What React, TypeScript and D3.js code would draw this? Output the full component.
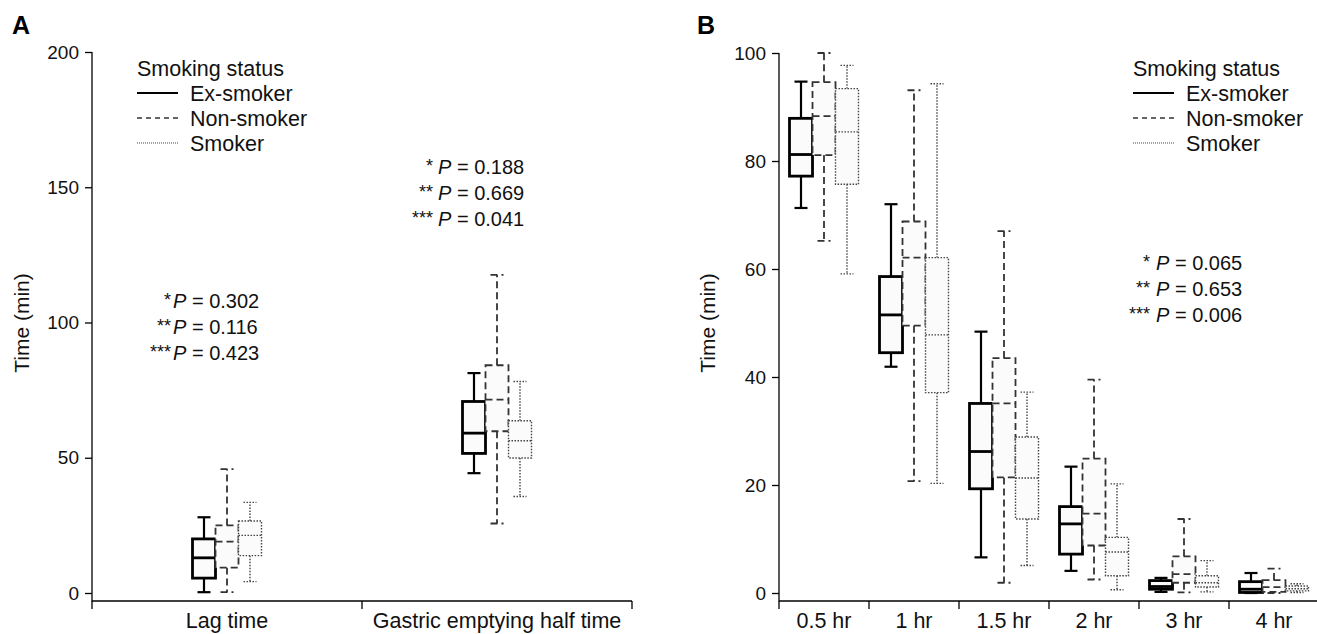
import * as d3 from "d3";
import React, { useEffect, useRef } from "react";

// each box: [min, q1, median, q3, max]
const groups = ["Ex-smoker", "Non-smoker", "Smoker"];

const categoriesA = ["Lag time", "Gastric emptying half time"];
const exSmokerA = [
  [0.3, 5.5, 13, 20, 28],
  [44.3, 51.6, 59.1, 70.8, 81.3],
];
const nonSmokerA = [
  [0.3, 9.4, 19, 25, 45.8],
  [25.7, 59.8, 71.5, 84.2, 117.6],
];
const smokerA = [
  [4.2, 13.8, 21.3, 26.6, 33.5],
  [35.7, 49.9, 56.3, 63.7, 78.2],
];
const ticksA = [0, 50, 100, 150, 200];

const categoriesB = ["0.5 hr", "1 hr", "1.5 hr", "2 hr", "3 hr", "4 hr"];
const exSmokerB = [
  [71.3, 77.2, 81.2, 87.9, 94.7],
  [41.9, 44.5, 51.5, 58.6, 72.0],
  [6.6, 19.3, 26.2, 35.1, 48.4],
  [4.1, 7.2, 12.8, 16.0, 23.4],
  [0.2, 0.7, 1.2, 2.3, 2.8],
  [0, 0.1, 0.7, 2.1, 3.7],
];
const nonSmokerB = [
  [65.2, 81.1, 88.3, 94.6, 100],
  [20.7, 49.5, 62.1, 68.8, 93.1],
  [1.9, 21.4, 35.1, 43.5, 67],
  [2.5, 8.8, 14.7, 24.9, 39.5],
  [0.1, 1.9, 3.5, 6.8, 13.7],
  [0, 0.2, 1.1, 2.4, 4.5],
];
const smokerB = [
  [59.1, 75.7, 85.4, 93.4, 97.7],
  [20.3, 37.1, 47.8, 62.1, 94.3],
  [5.1, 13.7, 21.3, 28.9, 37.2],
  [0.6, 3.2, 7.6, 10.3, 20.2],
  [0.2, 1.1, 1.9, 3.2, 6.0],
  [0.1, 0.4, 0.8, 1.3, 1.7],
];
const ticksB = [0, 20, 40, 60, 80, 100];

const starLabels = ["*", "**", "***"];
const pLagTime = ["0.302", "0.116", "0.423"];
const pHalfTime = ["0.188", "0.669", "0.041"];
const pHours = ["0.065", "0.653", "0.006"];

const FONT = "'Liberation Sans', Arial, sans-serif";

const groupStyles = [
  { stroke: "#000", width: 2.8, dash: null, legendDash: null, legendWidth: 2.2 },
  { stroke: "#333", width: 1.8, dash: "7,4", legendDash: "5,4", legendWidth: 1.3 },
  { stroke: "#444", width: 1.4, dash: "1.5,1.5", legendDash: "1,1", legendWidth: 1 },
];

function drawPanel(svg, opt) {
  const g = svg.append("g");
  const x = d3.scaleBand().domain(opt.categories).range(opt.xRange);
  const y = d3.scaleLinear().domain(opt.yDomain).range(opt.yRange);
  const axisY = 601;
  const boxW = 23;
  const capW = 13;

  // panel letter
  g.append("text")
    .attr("x", opt.letterX).attr("y", 34)
    .attr("font-family", FONT).attr("font-weight", "bold").attr("font-size", 25)
    .text(opt.letter);

  // y axis
  const yAxis = g.append("g")
    .attr("transform", `translate(${opt.xRange[0]},0)`)
    .call(d3.axisLeft(y).tickValues(opt.ticks).tickSize(7).tickSizeOuter(0).tickPadding(6));
  yAxis.select(".domain").remove();
  yAxis.selectAll("line").attr("stroke-width", 1.3);
  yAxis.selectAll("text").attr("font-family", FONT).attr("font-size", 19).attr("fill", "#111");
  g.append("line")
    .attr("x1", opt.xRange[0]).attr("x2", opt.xRange[0])
    .attr("y1", y(opt.yDomain[1])).attr("y2", axisY + 0.5)
    .attr("stroke", "#000").attr("stroke-width", 1.3);

  // x axis
  g.append("line")
    .attr("x1", opt.xRange[0]).attr("x2", opt.xRange[1])
    .attr("y1", axisY).attr("y2", axisY)
    .attr("stroke", "#000").attr("stroke-width", 1.5);
  const bounds = opt.categories.map((c) => x(c)).concat([opt.xRange[1]]);
  g.selectAll(".xtick").data(bounds).enter().append("line")
    .attr("x1", (d) => d).attr("x2", (d) => d)
    .attr("y1", axisY).attr("y2", axisY + 8)
    .attr("stroke", "#000").attr("stroke-width", 1.3);
  g.selectAll(".xlab").data(opt.categories).enter().append("text")
    .attr("x", (d) => x(d) + x.bandwidth() / 2).attr("y", 628)
    .attr("text-anchor", "middle")
    .attr("font-family", FONT).attr("font-size", 21.5).attr("fill", "#111")
    .text((d) => d);

  // y title
  g.append("text")
    .attr("transform", `translate(${opt.titleX},${opt.titleY}) rotate(-90)`)
    .attr("text-anchor", "middle")
    .attr("font-family", FONT).attr("font-size", 21).attr("fill", "#111")
    .text("Time (min)");

  // boxes
  opt.series.forEach((vals, gi) => {
    const st = groupStyles[gi];
    vals.forEach((v, ci) => {
      const [mn, q1, md, q3, mx] = v;
      const cx = x(opt.categories[ci]) + x.bandwidth() / 2 + (gi - 1) * boxW;
      const bg = g.append("g")
        .attr("stroke", st.stroke).attr("stroke-width", st.width)
        .attr("stroke-dasharray", st.dash);
      const ww = gi === 0 ? 2.2 : st.width;
      bg.append("line").attr("stroke-width", ww).attr("x1", cx).attr("x2", cx).attr("y1", y(q3)).attr("y2", y(mx));
      bg.append("line").attr("stroke-width", ww).attr("x1", cx).attr("x2", cx).attr("y1", y(q1)).attr("y2", y(mn));
      bg.append("line").attr("stroke-width", ww).attr("x1", cx - capW / 2).attr("x2", cx + capW / 2).attr("y1", y(mx)).attr("y2", y(mx));
      bg.append("line").attr("stroke-width", ww).attr("x1", cx - capW / 2).attr("x2", cx + capW / 2).attr("y1", y(mn)).attr("y2", y(mn));
      bg.append("rect")
        .attr("x", cx - boxW / 2).attr("width", boxW)
        .attr("y", y(q3)).attr("height", Math.max(0.5, y(q1) - y(q3)))
        .attr("fill", "#fbfbfb");
      bg.append("line").attr("x1", cx - boxW / 2).attr("x2", cx + boxW / 2).attr("y1", y(md)).attr("y2", y(md));
    });
  });

  // legend
  const lg = g.append("g").attr("transform", `translate(${opt.legendX},0)`);
  lg.append("text").attr("x", 0).attr("y", 76)
    .attr("font-family", FONT).attr("font-size", 21.5).attr("fill", "#111")
    .text("Smoking status");
  groups.forEach((name, i) => {
    const st = groupStyles[i];
    const yy = 93 + i * 25;
    lg.append("line").attr("x1", 0).attr("x2", 41).attr("y1", yy).attr("y2", yy)
      .attr("stroke", st.stroke).attr("stroke-width", st.legendWidth)
      .attr("stroke-dasharray", st.legendDash);
    lg.append("text").attr("x", 53).attr("y", yy + 7.5)
      .attr("font-family", FONT).attr("font-size", 21.5).attr("fill", "#111")
      .text(name);
  });

  // p-values
  opt.pBlocks.forEach((blk) => {
    blk.values.forEach((p, i) => {
      const yy = blk.y + i * 26;
      g.append("text").attr("x", blk.x - blk.gap).attr("y", yy - 2)
        .attr("text-anchor", "end")
        .attr("font-family", FONT).attr("font-size", 18).attr("fill", "#111")
        .text(starLabels[i]);
      const t = g.append("text").attr("x", blk.x).attr("y", yy)
        .attr("font-family", FONT).attr("font-size", 20).attr("fill", "#111");
      t.append("tspan").attr("font-style", "italic").text("P");
      t.append("tspan").text(` = ${p}`);
    });
  });
}

function Chart() {
  const ref = useRef(null);

  useEffect(() => {
    const svg = d3.select(ref.current);
    svg.selectAll("*").remove();

    drawPanel(svg, {
      letter: "A", letterX: 12,
      categories: categoriesA,
      series: [exSmokerA, nonSmokerA, smokerA],
      xRange: [92, 632],
      yDomain: [0, 200], yRange: [593, 52],
      ticks: ticksA,
      titleX: 29, titleY: 323,
      legendX: 137,
      pBlocks: [
        { x: 173, y: 308, gap: 2, values: pLagTime },
        { x: 438, y: 174, gap: 5, values: pHalfTime },
      ],
    });

    drawPanel(svg, {
      letter: "B", letterX: 697,
      categories: categoriesB,
      series: [exSmokerB, nonSmokerB, smokerB],
      xRange: [779, 1319],
      yDomain: [0, 100], yRange: [593, 53],
      ticks: ticksB,
      titleX: 715, titleY: 323,
      legendX: 1133,
      pBlocks: [{ x: 1156, y: 270, gap: 6, values: pHours }],
    });
  }, []);

  return (
    <svg ref={ref} width={1317} height={634}
      style={{ position: "absolute", left: 0, top: 0, background: "#fff" }} />
  );
}

export default function App() {
  return <Chart />;
}
